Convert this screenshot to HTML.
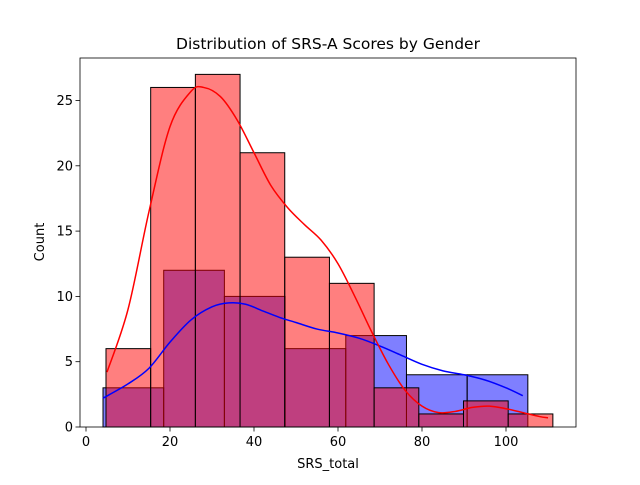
<!DOCTYPE html>
<html><head><meta charset="utf-8"><style>
body{margin:0;background:#fff;}
svg{font-family:"DejaVu Sans","Liberation Sans",sans-serif;}
</style></head><body>
<svg id="chart" width="640" height="480"></svg>
<script>
const redBinStart=4.76, redBinWidth=10.64;
const redCounts=[6,26,27,21,13,11,3,1,2,1];
const blueBinStart=4.05, blueBinWidth=14.45;
const blueCounts=[3,12,10,6,7,4,4];
const redKdeX=[5,10,15,20,25,28,32,36,40,44,48,52,56,60,64,68,72,76,80,84,88,92,96,100,104,108,110];
const redKdeY=[4.2,9,16.5,23,25.7,26,25.3,23.5,21,18.5,16.8,15.5,14.3,12.5,10,7.3,4.8,2.8,1.6,1.1,1.2,1.5,1.6,1.4,1.1,0.8,0.7];
const blueKdeX=[4,10,15,20,25,30,34,38,42,46,50,55,60,65,70,75,80,85,90,95,100,104];
const blueKdeY=[2.2,3.3,4.5,6.5,8.2,9.2,9.5,9.4,8.9,8.4,8.0,7.5,7.2,6.8,6.2,5.5,4.8,4.3,4.0,3.6,3.0,2.4];
const xTicks=[0,20,40,60,80,100];
const yTicks=[0,5,10,15,20,25];

const L=80,R=576,T=58,B=427;
const sx=v=>86+4.2*v;
const sy=v=>B-13.06*v;
const svg=document.getElementById('chart');
const NS='http://www.w3.org/2000/svg';
function mk(tag,attrs,parent){const e=document.createElementNS(NS,tag);for(const k in attrs)e.setAttribute(k,attrs[k]);(parent||svg).appendChild(e);return e;}

function bars(start,w,counts,fill,name){
  const g=mk('g',{});
  
  
  counts.forEach((c,i)=>{
    const x0=sx(start+i*w),x1=sx(start+(i+1)*w);
    const r=mk('rect',{x:x0,y:sy(c),width:x1-x0,height:B-sy(c),fill:fill,stroke:'#000','stroke-width':1},g);
    
    
  });
}
bars(blueBinStart,blueBinWidth,blueCounts,'rgba(0,0,255,0.5)','blue');
bars(redBinStart,redBinWidth,redCounts,'rgba(255,0,0,0.5)','red');

function smoothPath(xs,ys){
  const p=xs.map((x,i)=>[sx(x),sy(ys[i])]);
  let d='M'+p[0][0]+','+p[0][1];
  for(let i=0;i<p.length-1;i++){
    const p0=p[i-1]||p[i],p1=p[i],p2=p[i+1],p3=p[i+2]||p2;
    const c1=[p1[0]+(p2[0]-p0[0])/6,p1[1]+(p2[1]-p0[1])/6];
    const c2=[p2[0]-(p3[0]-p1[0])/6,p2[1]-(p3[1]-p1[1])/6];
    d+=' C'+c1+' '+c2+' '+p2;
  }
  return d;
}
function line(xs,ys,color,name){
  const p=mk('path',{d:smoothPath(xs,ys),fill:'none',stroke:color,'stroke-width':1.5});
  
  
}
line(blueKdeX,blueKdeY,'#0000ff','blue-kde-line');
line(redKdeX,redKdeY,'#ff0000','red-kde-line');

const frame=mk('rect',{x:L,y:T,width:R-L,height:B-T,fill:'none',stroke:'#000','stroke-width':0.8});



xTicks.forEach(t=>{
  mk('line',{x1:sx(t),x2:sx(t),y1:B,y2:B+4.5,stroke:'#000','stroke-width':0.8});
  const tx=mk('text',{x:sx(t),y:B+19,'font-size':13,'text-anchor':'middle'});tx.textContent=t;
  
  
});
yTicks.forEach(t=>{
  mk('line',{x1:L-4.5,x2:L,y1:sy(t),y2:sy(t),stroke:'#000','stroke-width':0.8});
  const tx=mk('text',{x:L-7,y:sy(t)+4.5,'font-size':13,'text-anchor':'end'});tx.textContent=t;
  
  
});
const xt=mk('text',{x:328,y:468,'font-size':13,'text-anchor':'middle'});xt.textContent='SRS_total';


const yt=mk('text',{x:44,y:242,'font-size':13,'text-anchor':'middle',transform:'rotate(-90 44 242)'});yt.textContent='Count';


const ti=mk('text',{x:328,y:49,'font-size':15.5,'text-anchor':'middle'});ti.textContent='Distribution of SRS-A Scores by Gender';


</script>
</body></html>
